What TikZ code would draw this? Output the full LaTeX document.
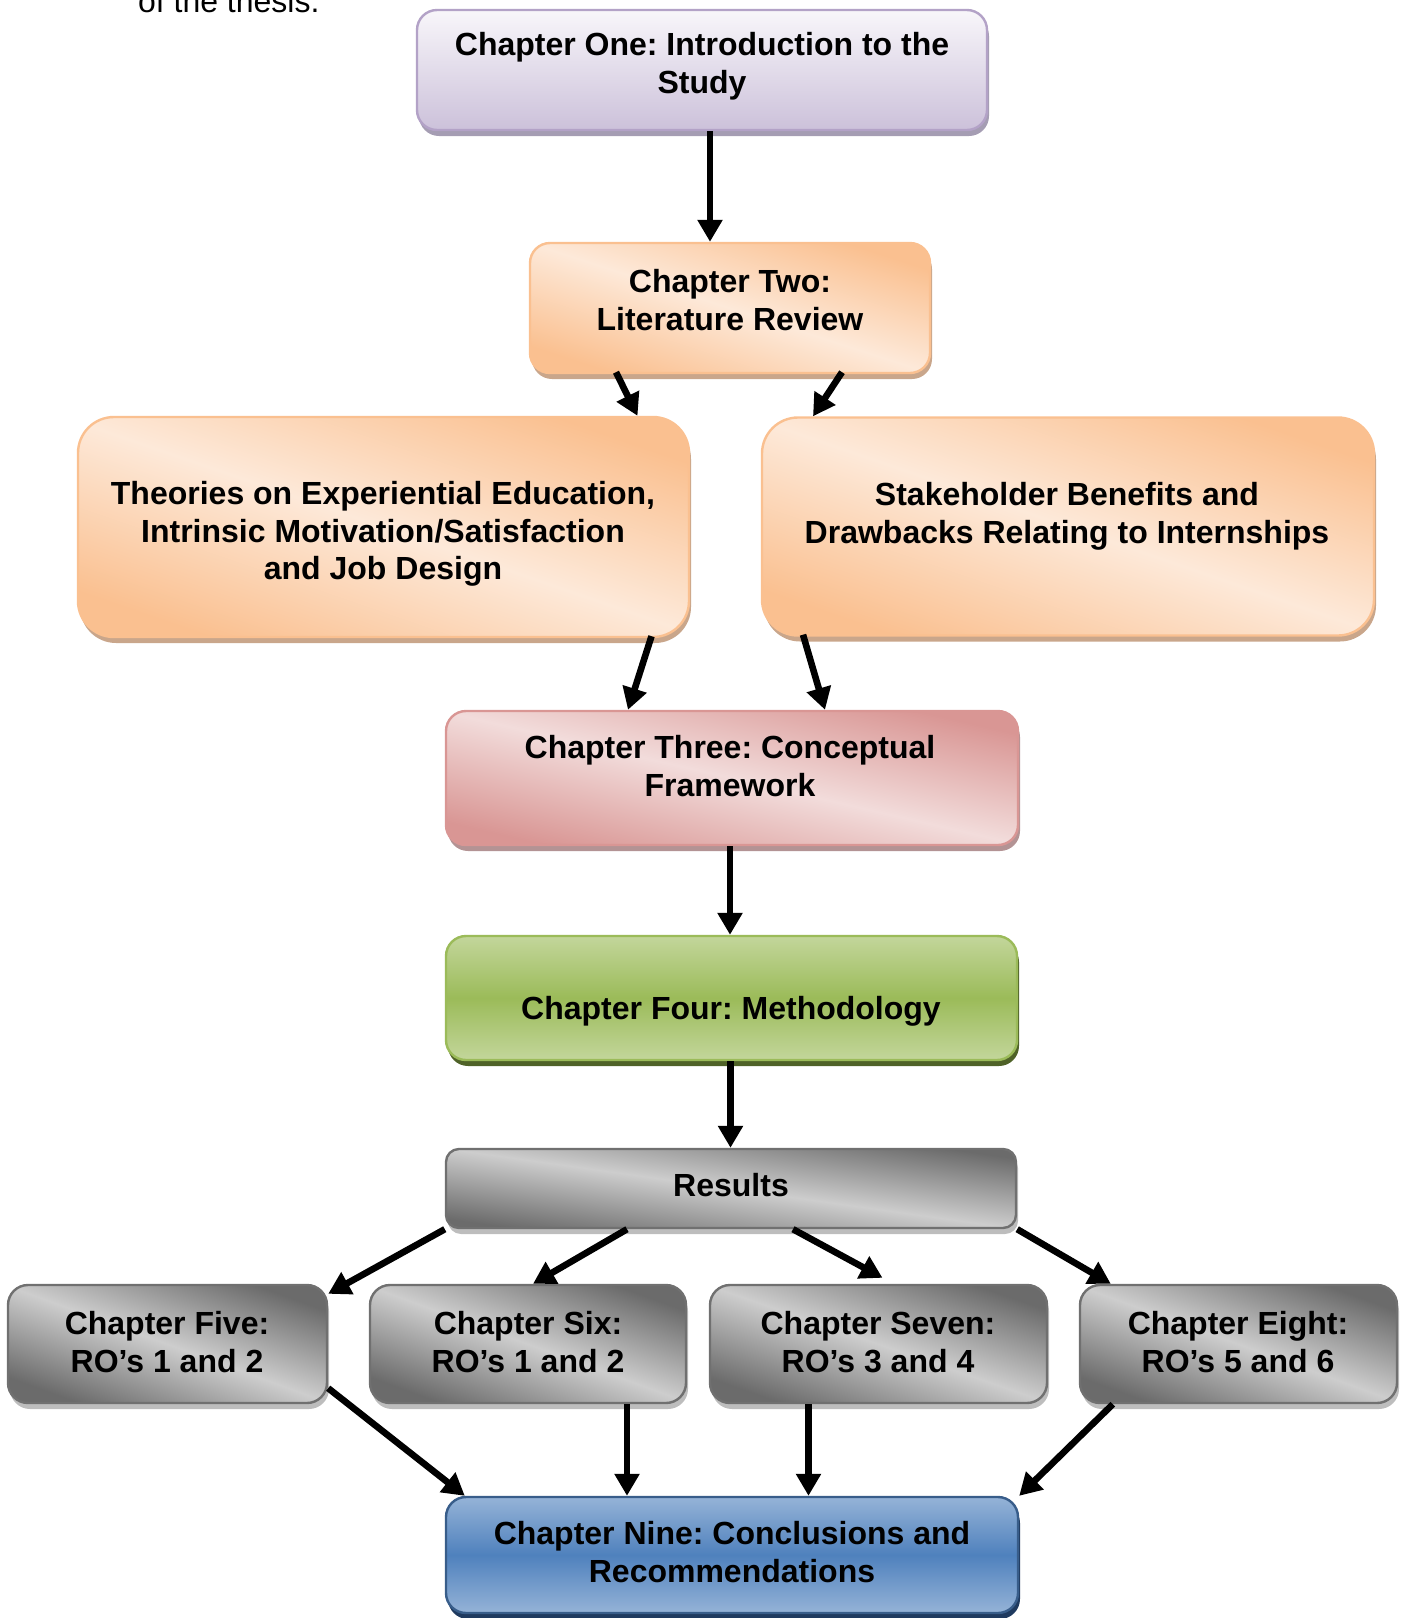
\documentclass[tikz,border=0pt]{standalone}
\usepackage{fontspec}
\setmainfont{Liberation Sans}
\usepackage{tikz}
\usetikzlibrary{arrows.meta,calc,shadows}
\frenchspacing

\definecolor{lilactop}{HTML}{F8F6FA}
\definecolor{lilac}{HTML}{CCC1DA}
\definecolor{lilacedge}{HTML}{B3A2C7}
\definecolor{lilacshadow}{HTML}{A59DB3}
\definecolor{peach}{HTML}{FDE9D9}
\definecolor{apricot}{HTML}{FAC090}
\definecolor{apricotshadow}{HTML}{C9A68B}
\definecolor{rose}{HTML}{D99694}
\definecolor{roselight}{HTML}{F2DCDB}
\definecolor{roseshadow}{HTML}{B39394}
\definecolor{olive}{HTML}{9BBB59}
\definecolor{olivelight}{HTML}{C3D69B}
\definecolor{oliveshadow}{HTML}{4F6228}
\definecolor{steel}{HTML}{6B6B6B}
\definecolor{silver}{HTML}{CDCDCD}
\definecolor{steeledge}{HTML}{707070}
\definecolor{steelshadow}{HTML}{BDBDBD}
\definecolor{sky}{HTML}{95B3D7}
\definecolor{ocean}{HTML}{4F81BD}
\definecolor{oceanedge}{HTML}{385D8A}
\definecolor{oceanshadow}{HTML}{1F3A5F}

\begin{document}
\begin{tikzpicture}[x=0.5pt,y=-0.5pt,
  chapbox/.style={rounded corners=10pt,line width=1.2pt,inner sep=0pt},
  dropsh/.style={drop shadow={shadow xshift=1pt,shadow yshift=-3pt,fill=#1,opacity=1}},
  purplebox/.style={chapbox,draw=lilacedge,top color=lilactop,bottom color=lilac,dropsh=lilacshadow},
  orangebox/.style={chapbox,draw=apricot,top color=apricot,bottom color=apricot,middle color=peach,shading angle=#1,dropsh=apricotshadow},
  orangebox/.default=-19,
  pinkbox/.style={chapbox,draw=rose,top color=rose,bottom color=rose,middle color=roselight,shading angle=-13,dropsh=roseshadow},
  greenbox/.style={chapbox,draw=olive,top color=olivelight,bottom color=olivelight,middle color=olive,dropsh=oliveshadow},
  greybox/.style={chapbox,draw=steeledge,top color=steel,bottom color=steel,middle color=silver,shading angle=#1,dropsh=steelshadow},
  greybox/.default=-20,
  bluebox/.style={chapbox,draw=oceanedge,top color=sky,bottom color=sky,middle color=ocean,dropsh=oceanshadow},
  txt/.style={align=center,font=\fontsize{16}{18.8}\selectfont\bfseries},
  arr/.style={line width=3.3pt,-{Triangle[width=12pt,length=11pt]}}]
\useasboundingbox (0,0) rectangle (1401,1618);

\node[anchor=base west,font=\fontsize{16}{19}\selectfont] (thesis) at (131,12) {of the thesis.};

\node[purplebox,minimum width=285pt,minimum height=60pt] (ch1) at (702,70) {};
\node[orangebox=-18,minimum width=200pt,minimum height=65pt] (ch2) at (730,308) {};
\node[orangebox,rounded corners=18pt,minimum width=305.5pt,minimum height=110pt] (theo) at (383.5,527) {};
\node[orangebox,rounded corners=18pt,minimum width=306pt,minimum height=109pt] (stake) at (1068,526.5) {};
\node[pinkbox,minimum width=286pt,minimum height=67pt] (ch3) at (732,778) {};
\node[greenbox,minimum width=285.5pt,minimum height=62pt] (ch4) at (731.5,998) {};
\node[greybox=-8,rounded corners=6.5pt,minimum width=285pt,minimum height=39.5pt] (res) at (731,1188.5) {};
\node[greybox,minimum width=159.5pt,minimum height=59pt] (ch5) at (167.5,1344) {};
\node[greybox,minimum width=158pt,minimum height=59pt] (ch6) at (528,1344) {};
\node[greybox=-19,minimum width=168.5pt,minimum height=59pt] (ch7) at (878.5,1344) {};
\node[greybox,minimum width=158.5pt,minimum height=59pt] (ch8) at (1238.5,1344) {};
\node[bluebox,minimum width=286pt,minimum height=58pt] (ch9) at (732,1555) {};

\node[txt] (ch1t) at (702,66) {Chapter One: Introduction to the\\Study};
\node[txt] (ch2t) at (730,300) {Chapter Two:\\Literature Review};
\node[txt] (theot) at (383,534) {Theories on Experiential Education,\\Intrinsic Motivation/Satisfaction\\and Job Design};
\node[txt] (staket) at (1067,516) {Stakeholder Benefits and\\Drawbacks Relating to Internships};
\node[txt] (ch3t) at (730,766) {Chapter Three: Conceptual\\Framework};
\node[txt] (ch4t) at (731,1011) {Chapter Four: Methodology};
\node[txt] (rest) at (731,1185) {Results};
\node[txt] (ch5t) at (167,1342) {Chapter Five:\\RO’s 1 and 2};
\node[txt] (ch6t) at (528,1342) {Chapter Six:\\RO’s 1 and 2};
\node[txt] (ch7t) at (878,1342) {Chapter Seven:\\RO’s 3 and 4};
\node[txt] (ch8t) at (1238,1342) {Chapter Eight:\\RO’s 5 and 6};
\node[txt] (ch9t) at (732,1552) {Chapter Nine: Conclusions and\\Recommendations};

\draw[arr] ([xshift=4pt]ch1.south) coordinate (p1) -- (p1 |- ch2.north);
\draw[arr] ([xshift=-57pt,yshift=1pt]ch2.south) -- ([xshift=127pt]theo.north);
\draw[arr] ([xshift=56pt,yshift=1pt]ch2.south) -- ([xshift=-127.5pt]stake.north);
\draw[arr] ([xshift=134pt,yshift=1pt]theo.south) -- ([xshift=-52pt]ch3.north);
\draw[arr] ([xshift=-132.5pt,yshift=1pt]stake.south) -- ([xshift=46.5pt]ch3.north);
\draw[arr] ([xshift=-1pt]ch3.south) coordinate (p3) -- (p3 |- ch4.north);
\draw[arr] ([xshift=-0.5pt]ch4.south) coordinate (p4) -- (p4 |- res.north);

\draw[arr] (res.south west) -- ([yshift=-5pt]ch5.north east);
\draw[arr] ([xshift=-52pt]res.south) -- ([xshift=2.5pt]ch6.north);
\draw[arr] ([xshift=31pt]res.south) -- ([xshift=2pt,yshift=3pt]ch7.north);
\draw[arr] (res.south east) -- ([xshift=16pt]ch8.north west);

\draw[arr] ([yshift=8pt]ch5.south east) -- ([xshift=10pt]ch9.north west);
\draw[arr] ([xshift=49.5pt]ch6.south) coordinate (p6) -- (p6 |- ch9.north);
\draw[arr] ([xshift=-35pt]ch7.south) coordinate (p7) -- (p7 |- ch9.north);
\draw[arr] ([xshift=17pt]ch8.south west) -- (ch9.north east);
\end{tikzpicture}
\end{document}
